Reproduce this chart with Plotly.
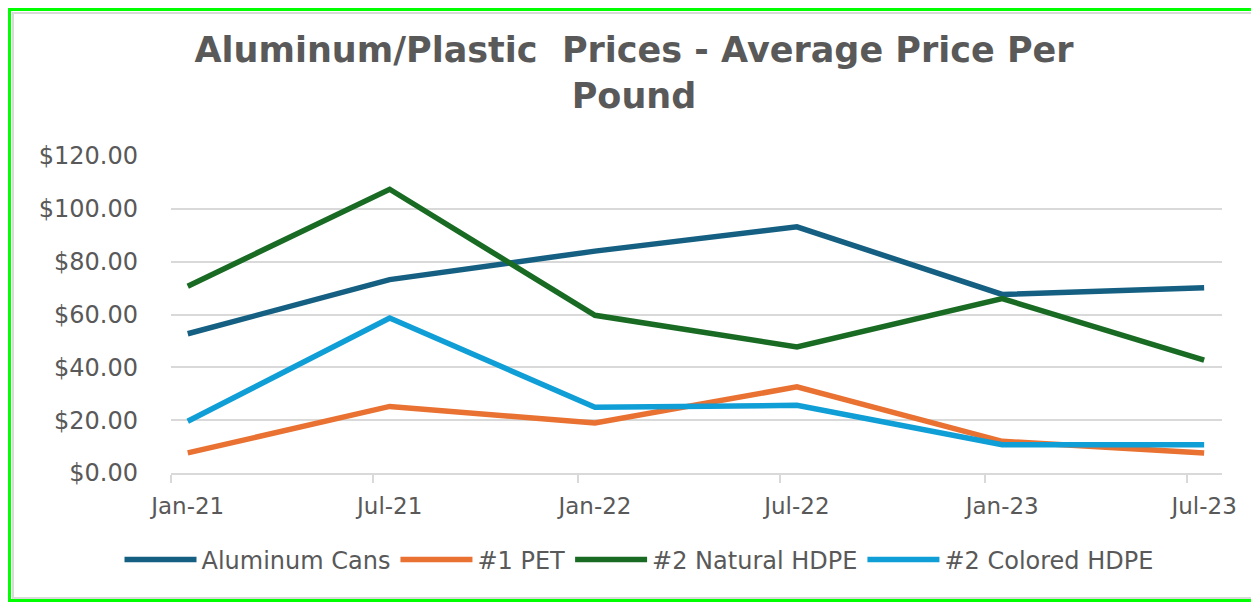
import plotly.graph_objects as go

# ---- data ----
months = ["2021-01", "2021-07", "2022-01", "2022-07", "2023-01", "2023-07"]
tick_labels = ["Jan-21", "Jul-21", "Jan-22", "Jul-22", "Jan-23", "Jul-23"]
series_names = ["Aluminum Cans", "#1 PET", "#2 Natural HDPE", "#2 Colored HDPE"]
aluminum_cans = [52.7, 73.2, 84.0, 93.2, 67.6, 70.1]
pet_1 = [7.6, 25.2, 18.9, 32.6, 12.0, 7.6]
natural_hdpe_2 = [70.7, 107.4, 59.7, 47.7, 66.0, 42.7]
colored_hdpe_2 = [19.6, 58.7, 24.9, 25.6, 10.7, 10.7]
y_ticks = [0, 20, 40, 60, 80, 100, 120]

colors = ["#156082", "#E97132", "#196B24", "#0F9ED5"]
series = [aluminum_cans, pet_1, natural_hdpe_2, colored_hdpe_2]

# month points sit in the middle of each month
x_dates = [m + "-16" for m in months]

# page body has an 8px margin, so the figure is drawn 8px in from the corner
OFF = 8
W, H = 1259 - OFF, 602 - OFF
ML, MT = 171 - OFF, 156 - OFF
MR = W - (1222 - OFF)
MB = H - (473 - OFF)
PW, PH = W - ML - MR, H - MT - MB

def px_x(p):  # screen px -> paper x
    return (p - OFF - ML) / PW

def px_y(p):  # screen px -> paper y
    return (H - MB - (p - OFF)) / PH

fig = go.Figure()
for name, vals, col in zip(series_names, series, colors):
    fig.add_trace(go.Scatter(
        x=x_dates, y=vals, name=name, mode="lines",
        line=dict(color=col, width=5.5),
    ))

grey = "#595959"
fig.update_layout(
    width=W, height=H,
    margin=dict(l=ML, r=MR, t=MT, b=MB, autoexpand=False),
    paper_bgcolor="white", plot_bgcolor="white",
    font=dict(family="DejaVu Sans", color=grey, size=24),
    title=dict(
        text="Aluminum/Plastic  Prices - Average Price Per<br>Pound",
        font=dict(family="DejaVu Sans", size=35, color=grey, weight="bold"),
        x=(634 - OFF) / W, xanchor="center", xref="container",
        y=1 - 54 / H, yanchor="top", yref="container",
    ),
    legend=dict(
        orientation="h", xref="container", x=(639 - OFF) / W, xanchor="center",
        yref="container", y=1 - (560 - OFF) / H, yanchor="middle",
        font=dict(size=24, color=grey), itemwidth=72,
        bgcolor="rgba(0,0,0,0)",
    ),
    showlegend=True,
)

fig.update_xaxes(
    type="date",
    range=["2021-01-01", "2023-08-01"],
    tickmode="array", tickvals=x_dates, ticktext=tick_labels,
    ticks="", showgrid=False, tickangle=0, automargin=False,
    showline=True, linecolor="#d9d9d9", linewidth=2,
    ticklabelstandoff=11,
    tickfont=dict(size=23, color=grey),
    minor=dict(ticks="outside", tick0="2021-01-01", dtick="M6",
               ticklen=8, tickcolor="#d9d9d9", tickwidth=2, showgrid=False),
    zeroline=False, fixedrange=True,
)
fig.update_yaxes(
    range=[0, 120], tickmode="array", tickvals=y_ticks,
    tickformat="$,.2f", automargin=False,
    showgrid=True, gridcolor="#d9d9d9", gridwidth=2,
    zeroline=False, showline=False, ticks="",
    ticklabelstandoff=32,
    tickfont=dict(size=24, color=grey),
    fixedrange=True,
)

# chart frame: outer green border and inner light-grey chart-area border
fig.add_shape(type="rect", xref="paper", yref="paper",
              x0=px_x(9.5), x1=px_x(1257.5), y0=px_y(600.5), y1=px_y(9.5),
              line=dict(color="#00ff00", width=3), layer="above")
fig.add_shape(type="rect", xref="paper", yref="paper",
              x0=px_x(13), x1=px_x(1253), y0=px_y(598), y1=px_y(13),
              line=dict(color="#d9d9d9", width=2), layer="above")

fig.write_html("out.html")
